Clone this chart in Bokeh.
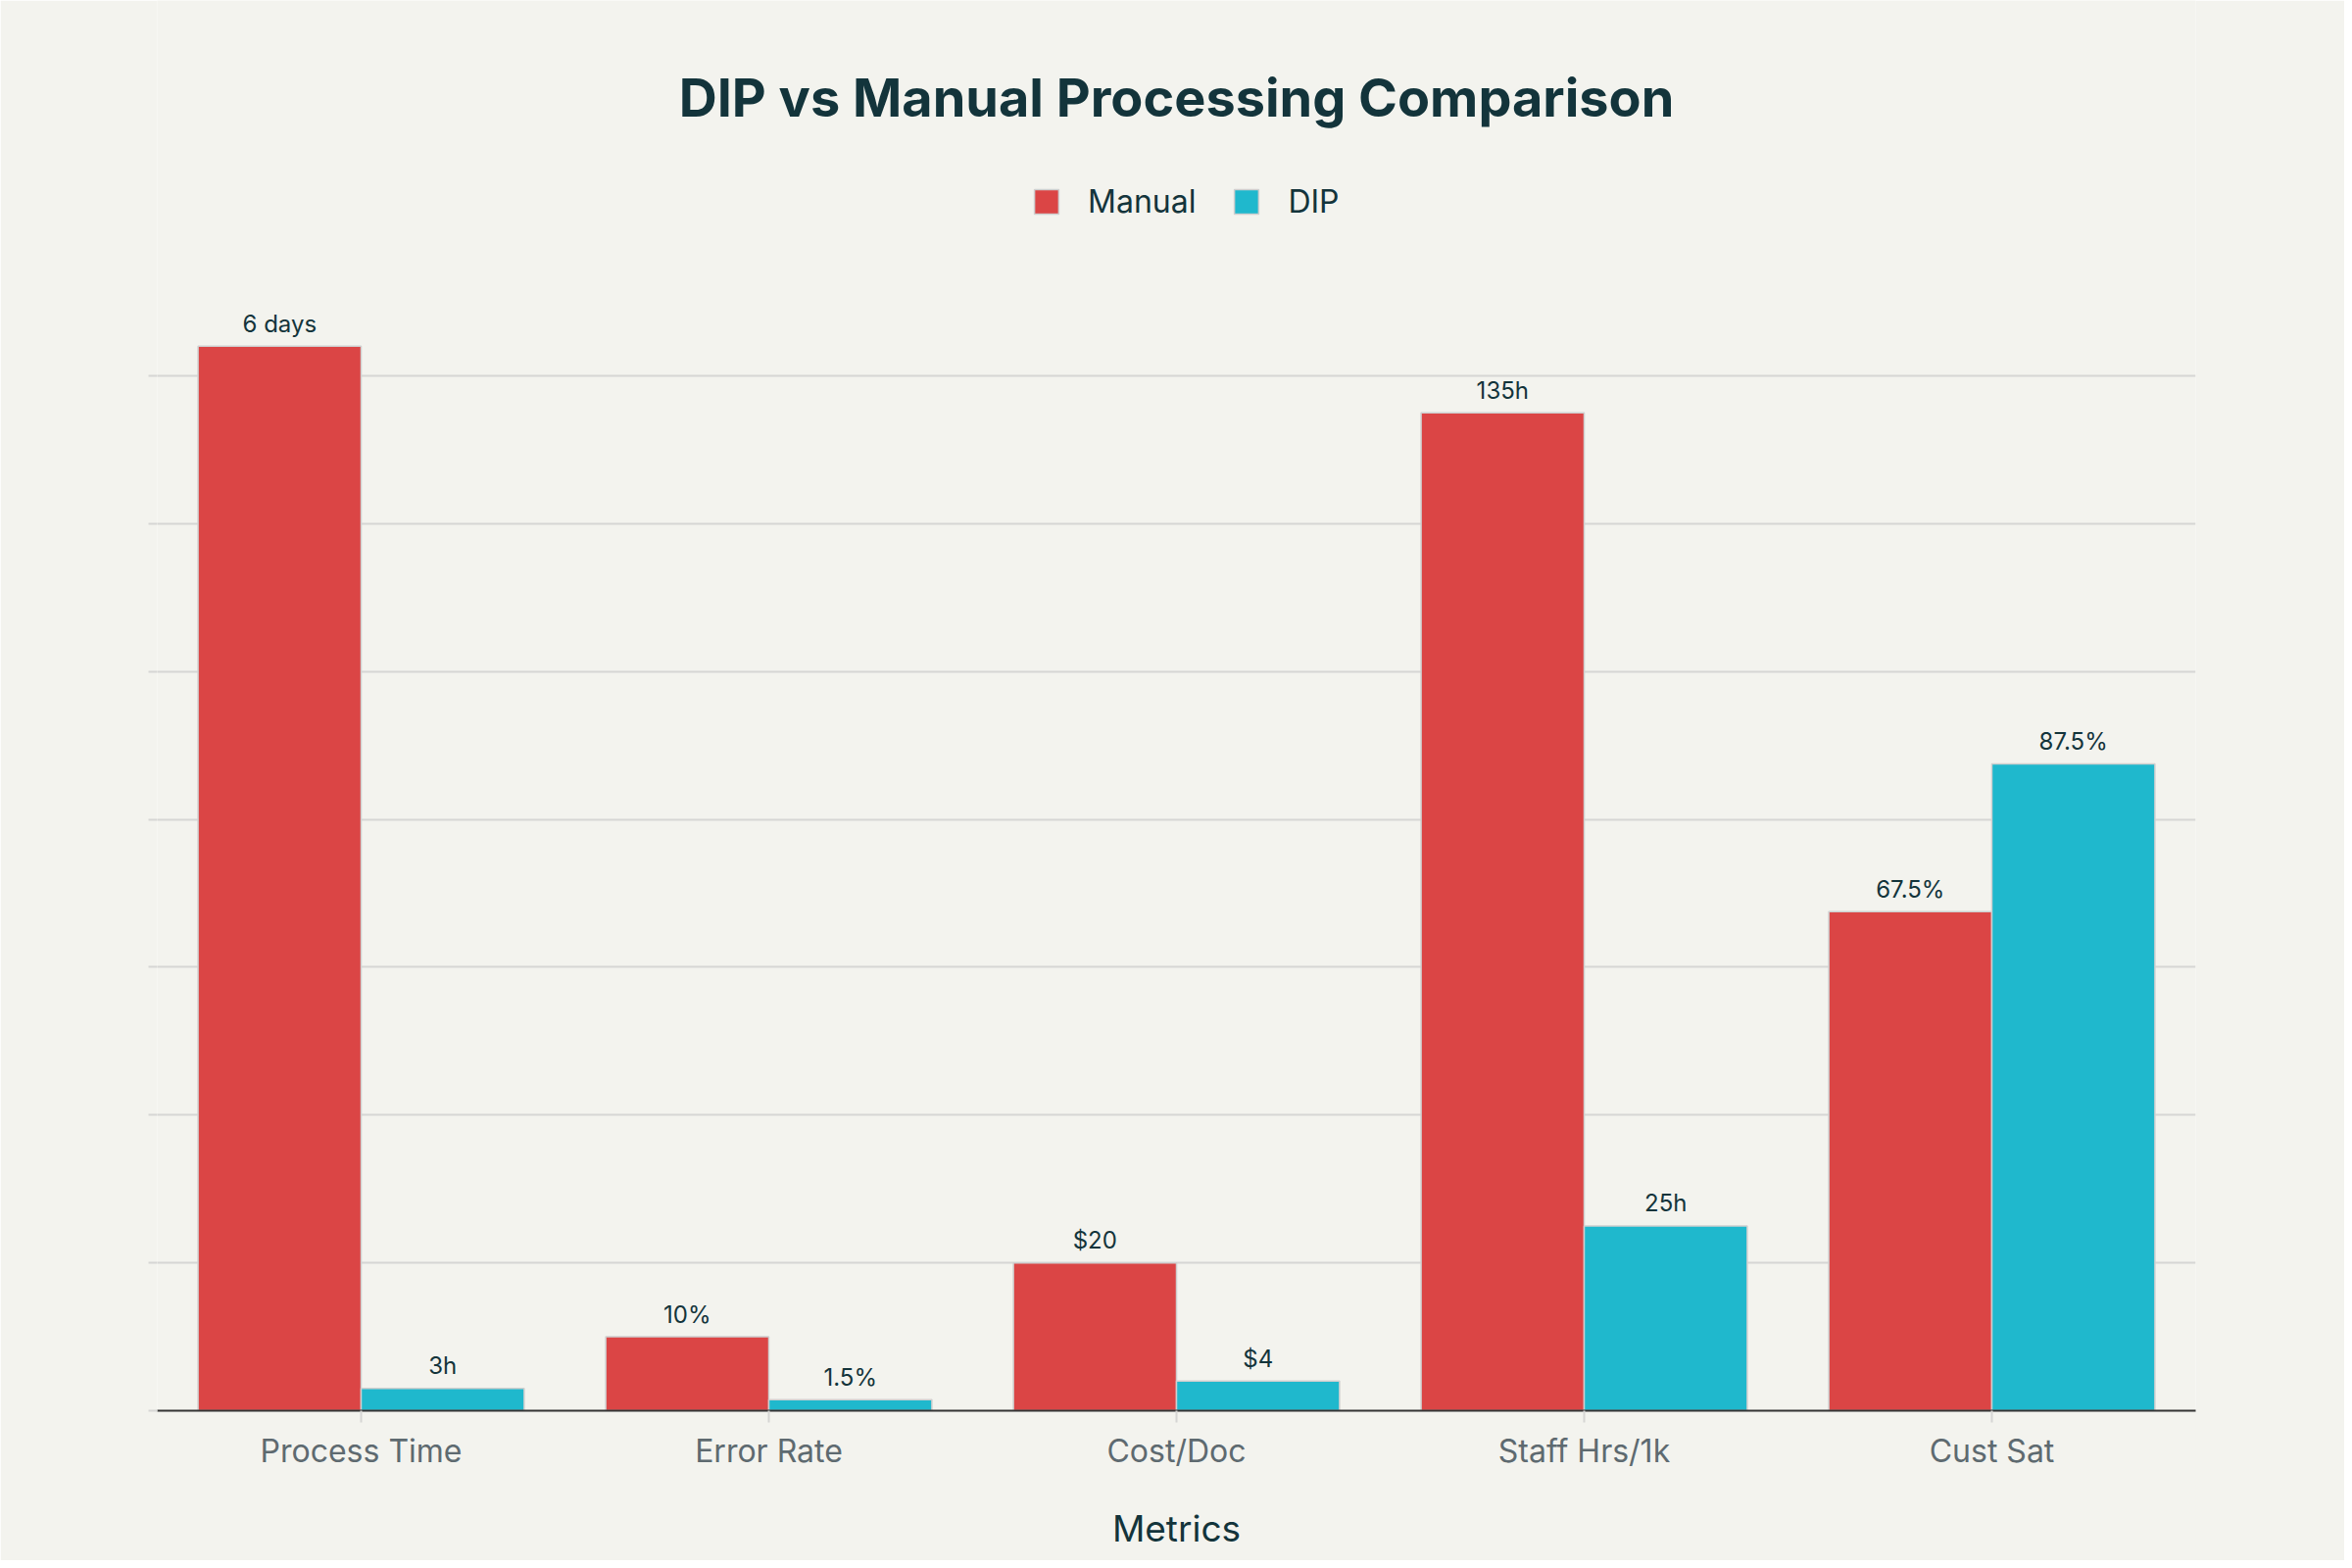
from bokeh.plotting import figure
from bokeh.models import (ColumnDataSource, FactorRange, Range1d, FixedTicker, Legend,
                          LegendItem, Label, CustomJSTickFormatter)
from bokeh.transform import dodge
from bokeh.core.properties import value
from bokeh.embed import file_html
from bokeh.resources import INLINE

# ---- data ----
categories = ["Process Time", "Error Rate", "Cost/Doc", "Staff Hrs/1k", "Cust Sat"]
manual_values = [144, 10, 20, 135, 67.5]
dip_values = [3, 1.5, 4, 25, 87.5]
manual_labels = ["6 days", "10%", "$20", "135h", "67.5%"]
dip_labels = ["3h", "1.5%", "$4", "25h", "87.5%"]
y_ticks = [0, 20, 40, 60, 80, 100, 120, 140]

BG = "#F3F3EE"
RED = "#DB4545"
CYAN = "#1FB8CD"
DARK = "#13343B"
GRID = "#D6D6D4"
FONT = "Inter"

src = ColumnDataSource(dict(cat=categories, manual=manual_values, dip=dip_values,
                            manual_label=manual_labels, dip_label=dip_labels))

p = figure(x_range=FactorRange(*categories, range_padding=0, factor_padding=0),
           y_range=Range1d(0, 190.77),
           frame_width=2080, frame_height=1439,
           min_border_left=160, min_border_right=152, min_border_top=0, min_border_bottom=153,
           output_backend="svg", toolbar_location=None,
           background_fill_color=BG, border_fill_color=BG, outline_line_color=None)

r_manual = p.vbar(x=dodge("cat", -0.2, range=p.x_range), top="manual", width=0.4, source=src,
                  fill_color=RED, line_color="#CFCFCF", line_width=1.5)
r_dip = p.vbar(x=dodge("cat", 0.2, range=p.x_range), top="dip", width=0.4, source=src,
               fill_color=CYAN, line_color="#CFCFCF", line_width=1.5)

for off, col in [(-0.2, "manual"), (0.2, "dip")]:
    p.text(x=dodge("cat", off, range=p.x_range), y=col, text=col + "_label", source=src,
           text_align="center", text_baseline="alphabetic", y_offset=-23,
           text_font=value(FONT), text_font_size="24px", text_color=DARK)

# title
p.add_layout(Label(x=2.5, y=177.6, text="DIP vs Manual Processing Comparison",
                   text_align="center", text_baseline="alphabetic",
                   text_font=FONT, text_font_size="54px", text_font_style="bold",
                   text_color=DARK))

legend = Legend(items=[LegendItem(label="Manual", renderers=[r_manual]),
                       LegendItem(label="DIP", renderers=[r_dip])],
                orientation="horizontal", location=(892, 1214),
                margin=0, padding=0, spacing=36, label_standoff=27,
                glyph_width=31, glyph_height=31, label_height=25,
                label_text_font=FONT, label_text_font_size="32px", label_text_color=DARK,
                background_fill_alpha=0, border_line_color=None)
p.add_layout(legend, "center")

# grid
p.xgrid.grid_line_color = None
p.ygrid.grid_line_color = GRID
p.ygrid.grid_line_width = 2

# y axis: ticks only, no labels
p.yaxis.ticker = FixedTicker(ticks=y_ticks)
p.yaxis.formatter = CustomJSTickFormatter(code="return ''")
p.yaxis.axis_line_color = None
p.yaxis.major_tick_line_color = GRID
p.yaxis.major_tick_line_width = 2
p.yaxis.major_tick_out = 9
p.yaxis.major_tick_in = 0
p.yaxis.minor_tick_line_color = None

# x axis
p.xaxis.axis_line_color = "#333333"
p.xaxis.axis_line_width = 2
p.xaxis.major_tick_line_color = GRID
p.xaxis.major_tick_line_width = 2
p.xaxis.major_tick_out = 12
p.xaxis.major_tick_in = 0
p.xaxis.major_label_standoff = 9
p.xaxis.major_label_text_font = FONT
p.xaxis.major_label_text_font_size = "32px"
p.xaxis.major_label_text_color = "#5E6A70"
p.xaxis.axis_label = "Metrics"
p.xaxis.axis_label_text_font = FONT
p.xaxis.axis_label_text_font_size = "37px"
p.xaxis.axis_label_text_font_style = "normal"
p.xaxis.axis_label_text_color = DARK
p.xaxis.axis_label_standoff = 34

open("out.html", "w").write(file_html(p, INLINE))
